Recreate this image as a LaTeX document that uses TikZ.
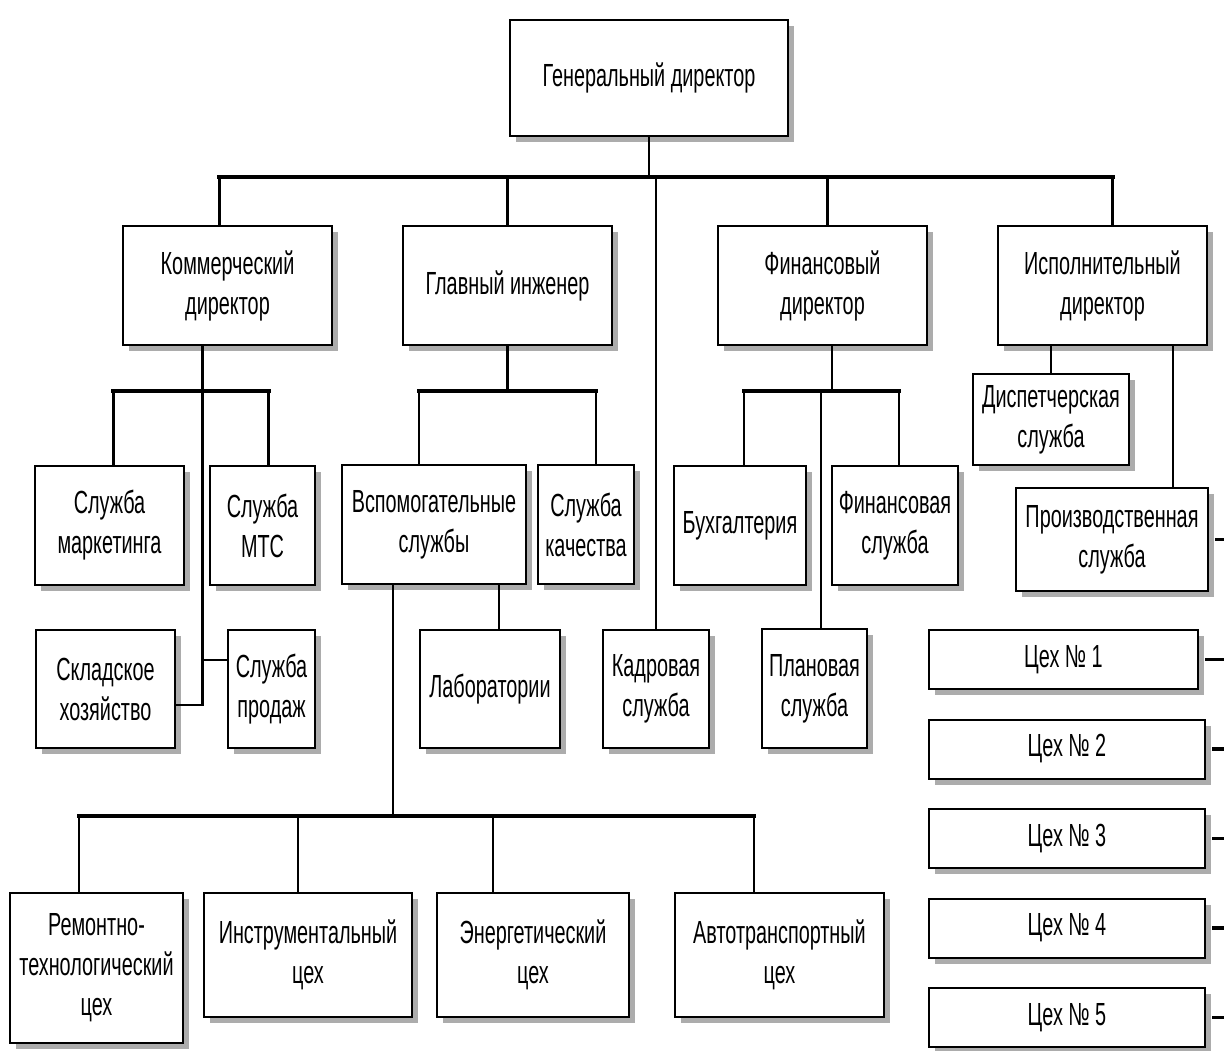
\documentclass[tikz,border=0pt]{standalone}
\usepackage{fontspec}
\setmainfont[FakeStretch=0.62]{Liberation Sans}
\usetikzlibrary{shadows}

\begin{document}
\begin{tikzpicture}
    [
    x = 1pt, y = -1pt,
    every node/.style = {font = \fontsize{32}{40}\selectfont},
    ]
    \tikzstyle{unit node}=[rectangle,draw,line width=2pt,fill=white,inner sep=0,align=center,
        drop shadow={shadow xshift=6pt,shadow yshift=-6pt,fill=gray!65,opacity=1}]
    \tikzstyle{link}=[line width=2.4pt]
    \tikzstyle{bus}=[line width=4.2pt,line cap=rect]
    \tikzstyle{thin link}=[line width=1.3pt]

    \useasboundingbox (0,0) rectangle (1224,1050);

    \node[unit node, minimum width=278, minimum height=116] (gd) at (649,78) {Генеральный директор};

    \node[unit node, minimum width=209, minimum height=119] (kom) at (227.5,285.5) {Коммерческий\\директор};
    \node[unit node, minimum width=209, minimum height=119] (glav) at (507.5,285.5) {Главный инженер};
    \node[unit node, minimum width=209, minimum height=119] (fin) at (822.5,285.5) {Финансовый\\директор};
    \node[unit node, minimum width=209, minimum height=119] (isp) at (1102.5,285.5) {Исполнительный\\директор};

    \node[unit node, minimum width=149, minimum height=119] (mark) at (109.5,525.5) {Служба\\маркетинга};
    \node[unit node, minimum width=105, minimum height=119] (mts) at (262.5,525.5) {Служба\\МТС};
    \node[unit node, minimum width=139, minimum height=118] (sklad) at (105.5,689) {Складское\\хозяйство};
    \node[unit node, minimum width=87, minimum height=118] (prod) at (271.5,689) {Служба\\продаж};

    \node[unit node, minimum width=184, minimum height=119] (vspom) at (434,524.5) {Вспомогательные\\службы};
    \node[unit node, minimum width=96, minimum height=119] (kach) at (586,524.5) {Служба\\качества};
    \node[unit node, minimum width=140, minimum height=118] (lab) at (490,689) {Лаборатории};
    \node[unit node, minimum width=106, minimum height=118] (kadr) at (656,689) {Кадровая\\служба};

    \node[unit node, minimum width=132, minimum height=119] (buh) at (740,525.5) {Бухгалтерия};
    \node[unit node, minimum width=126, minimum height=119] (finsl) at (895,525.5) {Финансовая\\служба};
    \node[unit node, minimum width=105, minimum height=119] (plan) at (814.5,688.5) {Плановая\\служба};

    \node[unit node, minimum width=156, minimum height=91] (disp) at (1051,419.5) {Диспетчерская\\служба};
    \node[unit node, minimum width=192, minimum height=103] (proizv) at (1112,539.5) {Производственная\\служба};
    \foreach \n/\w in {1/269,2/276,3/276,4/276,5/276}
        \node[unit node, minimum width=\w, minimum height=59, anchor=west] (ceh\n) at (928,570+89.5*\n) {Цех №~\n};

    \node[unit node, minimum width=173, minimum height=150] (rem) at (96.5,968) {Ремонтно-\\технологический\\цех};
    \node[unit node, minimum width=208, minimum height=124] (instr) at (308,955) {Инструментальный\\цех};
    \node[unit node, minimum width=192, minimum height=124] (energ) at (533,955) {Энергетический\\цех};
    \node[unit node, minimum width=209, minimum height=124] (avto) at (779.5,955) {Автотранспортный\\цех};

    \path (gd.south) ++(0,40) coordinate (gdbus);
    \draw[link] (gd.south) -- (gdbus);
    \draw[bus] ([xshift=-8]kom.north |- gdbus) -- ([xshift=10]isp.north |- gdbus);
    \draw[link] ([xshift=-8]kom.north) -- ([xshift=-8]kom.north |- gdbus);
    \draw[link] (glav.north) -- (glav.north |- gdbus);
    \draw[link] (kadr.north) -- (kadr.north |- gdbus);
    \draw[link] ([xshift=5]fin.north) -- ([xshift=5]fin.north |- gdbus);
    \draw[link] ([xshift=10]isp.north) -- ([xshift=10]isp.north |- gdbus);

    \coordinate (kspine) at ([xshift=-25]kom.south);
    \path (kom.south) ++(0,45) coordinate (kbus);
    \coordinate (skladj) at ([yshift=-16]sklad.east);
    \coordinate (prodj) at ([yshift=29]prod.west);
    \draw[bus] ([xshift=4]mark.north |- kbus) -- ([xshift=6]mts.north |- kbus);
    \draw[link] ([xshift=4]mark.north) -- ([xshift=4]mark.north |- kbus);
    \draw[link] ([xshift=6]mts.north) -- ([xshift=6]mts.north |- kbus);
    \draw[link] (kspine) |- (skladj);
    \draw[thin link] (prodj) -- (kspine |- prodj);

    \path (glav.south) ++(0,45) coordinate (gbus);
    \draw[link] (glav.south) -- (gbus);
    \draw[bus] ([xshift=-15]vspom.north |- gbus) -- ([xshift=10]kach.north |- gbus);
    \draw[link] ([xshift=-15]vspom.north) -- ([xshift=-15]vspom.north |- gbus);
    \draw[link] ([xshift=10]kach.north) -- ([xshift=10]kach.north |- gbus);
    \draw[link] ([xshift=65]vspom.south) -- ([xshift=65]vspom.south |- lab.north);

    \coordinate (vspine) at ([xshift=-41]vspom.south);
    \path (vspom.south) ++(0,231) coordinate (vbus);
    \draw[link] (vspine) -- (vspine |- vbus);
    \draw[bus] ([xshift=-17.5]rem.north |- vbus) -- ([xshift=-25.5]avto.north |- vbus);
    \draw[link] ([xshift=-17.5]rem.north) -- ([xshift=-17.5]rem.north |- vbus);
    \draw[link] ([xshift=-10]instr.north) -- ([xshift=-10]instr.north |- vbus);
    \draw[link] ([xshift=-40]energ.north) -- ([xshift=-40]energ.north |- vbus);
    \draw[link] ([xshift=-25.5]avto.north) -- ([xshift=-25.5]avto.north |- vbus);

    \path (fin.south) ++(0,45) coordinate (fbus);
    \draw[link] ([xshift=9.5]fin.south) -- ([xshift=9.5]fin.south |- fbus);
    \draw[bus] ([xshift=4]buh.north |- fbus) -- ([xshift=4]finsl.north |- fbus);
    \draw[link] ([xshift=4]buh.north) -- ([xshift=4]buh.north |- fbus);
    \draw[link] ([xshift=4]finsl.north) -- ([xshift=4]finsl.north |- fbus);
    \draw[thin link] ([xshift=6.5]plan.north) -- ([xshift=6.5]plan.north |- fbus);

    \coordinate (rim) at (1224,0);
    \draw[link] (disp.north) -- (disp.north |- isp.south);
    \draw[link] ([xshift=61]proizv.north) -- ([xshift=61]proizv.north |- isp.south);
    \draw[line width=3pt] ([xshift=6]proizv.east) -- (proizv.east -| rim);
    \foreach \n in {1,...,5}
        \draw[line width=3.2pt] ([xshift=6]ceh\n.east) -- (ceh\n.east -| rim);
\end{tikzpicture}
\end{document}
